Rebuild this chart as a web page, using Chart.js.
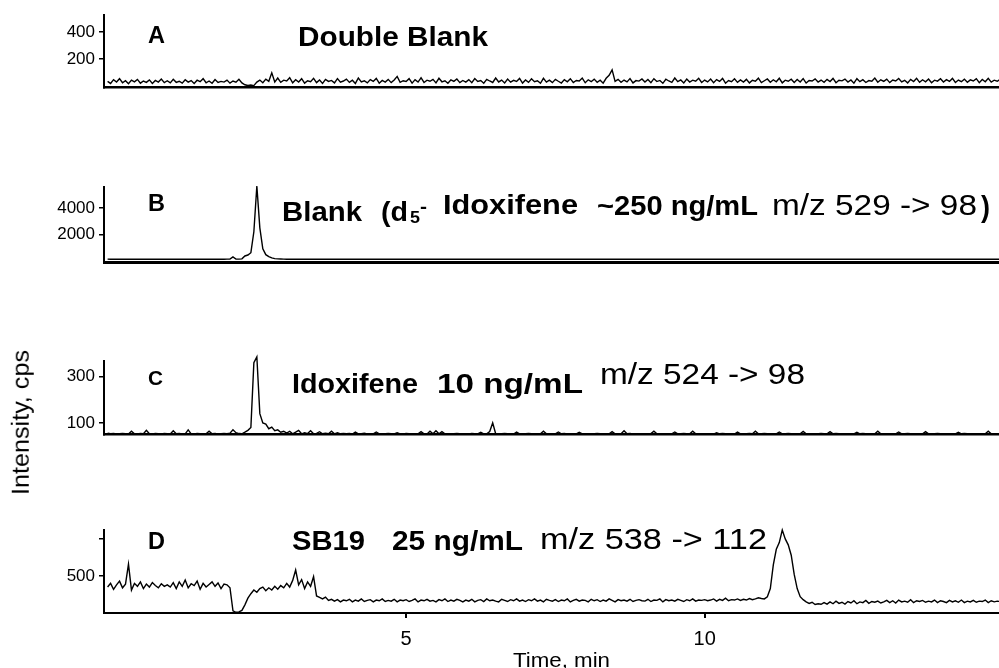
<!DOCTYPE html>
<html>
<head>
<meta charset="utf-8">
<title>Chromatograms A-D</title>
<script src="https://cdn.jsdelivr.net/npm/chart.js@4.4.1/dist/chart.umd.min.js"></script>
<style>
  html, body { margin: 0; padding: 0; background: #fff; }
  #stage { position: relative; width: 999px; height: 668px; overflow: hidden; background: #fff; }
  #stage canvas { position: absolute; left: 0; }
  .lbl { position: absolute; white-space: pre; line-height: 1; color: #000;
         font-family: "Liberation Sans", Arial, Helvetica, sans-serif; transform-origin: 0 50%; }
</style>
</head>
<body>
<div id="stage">
  <canvas id="panelA" width="999" height="100" style="top:0px"></canvas>
  <canvas id="panelB" width="999" height="105" style="top:170px"></canvas>
  <canvas id="panelC" width="999" height="107" style="top:340px"></canvas>
  <canvas id="panelD" width="999" height="158" style="top:510px"></canvas>
</div>
<script>
// ── Data ────────────────────────────────────────────────────────
// retention time grid, min (0.05 min steps)
const timeMin = [
  0,0.05,0.1,0.15,0.2,0.25,0.3,0.35,0.4,0.45,0.5,0.55,0.6,0.65,0.7,0.75,0.8,0.85,0.9,0.95,
  1,1.05,1.1,1.15,1.2,1.25,1.3,1.35,1.4,1.45,1.5,1.55,1.6,1.65,1.7,1.75,1.8,1.85,1.9,1.95,
  2,2.05,2.1,2.15,2.2,2.25,2.3,2.35,2.4,2.45,2.5,2.55,2.6,2.65,2.7,2.75,2.8,2.85,2.9,2.95,
  3,3.05,3.1,3.15,3.2,3.25,3.3,3.35,3.4,3.45,3.5,3.55,3.6,3.65,3.7,3.75,3.8,3.85,3.9,3.95,
  4,4.05,4.1,4.15,4.2,4.25,4.3,4.35,4.4,4.45,4.5,4.55,4.6,4.65,4.7,4.75,4.8,4.85,4.9,4.95,
  5,5.05,5.1,5.15,5.2,5.25,5.3,5.35,5.4,5.45,5.5,5.55,5.6,5.65,5.7,5.75,5.8,5.85,5.9,5.95,
  6,6.05,6.1,6.15,6.2,6.25,6.3,6.35,6.4,6.45,6.5,6.55,6.6,6.65,6.7,6.75,6.8,6.85,6.9,6.95,
  7,7.05,7.1,7.15,7.2,7.25,7.3,7.35,7.4,7.45,7.5,7.55,7.6,7.65,7.7,7.75,7.8,7.85,7.9,7.95,
  8,8.05,8.1,8.15,8.2,8.25,8.3,8.35,8.4,8.45,8.5,8.55,8.6,8.65,8.7,8.75,8.8,8.85,8.9,8.95,
  9,9.05,9.1,9.15,9.2,9.25,9.3,9.35,9.4,9.45,9.5,9.55,9.6,9.65,9.7,9.75,9.8,9.85,9.9,9.95,
  10,10.05,10.1,10.15,10.2,10.25,10.3,10.35,10.4,10.45,10.5,10.55,10.6,10.65,10.7,10.75,10.8,10.85,10.9,10.95,
  11,11.05,11.1,11.15,11.2,11.25,11.3,11.35,11.4,11.45,11.5,11.55,11.6,11.65,11.7,11.75,11.8,11.85,11.9,11.95,
  12,12.05,12.1,12.15,12.2,12.25,12.3,12.35,12.4,12.45,12.5,12.55,12.6,12.65,12.7,12.75,12.8,12.85,12.9,12.95,
  13,13.05,13.1,13.15,13.2,13.25,13.3,13.35,13.4,13.45,13.5,13.55,13.6,13.65,13.7,13.75,13.8,13.85,13.9,13.95,
  14,14.05,14.1,14.15,14.2,14.25,14.3,14.35,14.4,14.45,14.5,14.55,14.6,14.65,14.7,14.75,14.8,14.85,14.9,14.95
];

// A: double blank, cps
const doubleBlank = [
  35,20,48,30,55,25,40,18,45,32,50,22,38,28,46,20,42,30,52,26,
  40,24,50,28,36,22,47,30,41,19,44,33,55,25,38,21,49,27,35,30,
  45,22,38,29,51,24,10,5,8,4,30,45,25,52,36,98,30,60,28,44,
  38,62,25,47,30,55,22,40,33,58,26,45,20,50,35,42,24,56,30,38,
  52,28,44,20,60,32,40,24,48,35,57,22,42,30,50,26,46,72,28,40,
  34,55,22,48,30,62,27,44,36,50,24,58,32,40,21,47,35,53,26,42,
  30,48,25,56,34,41,22,50,38,27,60,31,45,24,52,29,43,35,57,23,
  46,28,54,33,40,21,58,30,44,26,50,36,23,48,32,55,27,42,38,60,
  25,47,33,52,29,44,22,58,80,120,35,50,28,45,31,56,24,41,37,53,
  30,49,26,55,34,42,21,51,38,28,60,33,46,24,53,30,44,36,58,27,
  45,31,52,25,48,35,57,22,41,33,55,28,46,30,50,24,43,37,59,26,
  40,53,29,47,32,58,24,44,36,51,27,49,31,56,23,42,38,54,30,45,
  28,50,34,57,25,43,39,52,30,46,22,55,33,48,27,41,36,60,29,47,
  35,52,26,45,38,56,31,43,24,50,34,58,28,47,32,53,25,44,37,55,
  30,48,35,57,27,45,33,52,29,46,38,55,26,49,32,58,30,44,36,51
];

// B: blank with d5-idoxifene internal standard, cps
const blankIS = [
  110,100,95,105,100,110,98,102,100,105,95,100,108,100,96,104,100,110,98,102,
  100,105,96,100,110,98,102,100,95,105,100,108,96,102,100,104,98,100,106,100,
  105,110,280,120,110,130,350,420,600,2200,5700,2500,900,450,300,200,150,130,120,110,
  104,98,100,106,100,95,102,100,108,97,100,104,99,102,96,100,105,100,98,103,
  100,96,104,100,107,98,101,100,95,104,100,102,97,105,100,99,103,100,96,102,
  101,104,98,100,106,97,100,103,99,100,105,96,102,100,98,104,100,101,97,103,
  100,97,103,100,99,105,98,101,100,104,96,100,103,98,101,100,106,99,100,102,
  98,102,100,105,97,100,103,99,101,100,96,104,100,98,105,100,102,97,100,104,
  103,100,97,101,104,99,100,106,98,100,102,97,105,100,99,103,100,96,102,100,
  100,104,98,102,100,97,105,100,101,99,103,100,96,104,100,98,102,100,105,99,
  97,101,100,104,98,102,100,99,105,100,97,103,100,101,98,104,100,99,102,100,
  102,99,104,100,97,101,100,105,98,100,103,99,101,100,96,104,100,102,98,100,
  100,103,98,100,105,99,102,100,97,104,100,101,98,103,100,99,105,100,97,102,
  99,100,104,97,101,100,103,98,100,105,99,101,100,97,104,100,102,98,100,103,
  101,98,100,104,99,102,100,97,103,100,105,98,101,100,99,104,100,97,102,100
];

// C: idoxifene 10 ng/mL, cps
const idoxifene10 = [
  56,53,54,52,53,55,53,52,64,53,52,54,53,68,53,52,54,53,52,55,
  53,52,66,53,54,52,53,70,53,52,54,53,52,53,64,53,55,52,53,54,
  53,56,70,58,54,53,60,68,80,360,385,140,100,95,75,82,66,70,60,64,
  56,64,53,60,68,53,58,54,66,53,55,62,53,56,53,64,53,58,53,55,
  53,54,52,60,53,53,56,52,53,53,61,53,52,53,54,53,53,58,53,52,
  54,53,52,53,53,62,53,52,64,53,66,53,62,53,53,52,53,54,53,53,
  53,52,54,53,53,60,53,53,63,100,53,52,53,54,53,53,52,60,53,53,
  53,54,53,52,53,53,64,53,53,52,53,61,53,54,52,53,53,53,60,53,
  53,52,53,53,54,53,53,52,53,62,53,53,53,66,53,54,52,53,53,53,
  52,53,54,64,53,53,53,53,52,53,61,53,53,54,53,53,64,53,52,53,
  53,53,53,52,58,53,54,53,53,53,52,60,53,53,53,54,53,64,53,53,
  54,53,52,53,53,61,53,53,54,53,52,53,53,63,53,53,53,52,53,54,
  53,53,62,53,54,53,52,53,53,53,53,60,53,54,53,53,52,53,64,53,
  53,53,53,52,53,61,53,53,54,53,53,53,52,53,62,53,53,53,54,53,
  53,52,53,53,53,60,53,54,53,53,52,53,53,53,53,64,53,53,52,53
];

// D: SB19 25 ng/mL, cps
const sb19 = [
  350,400,320,380,430,340,390,660,310,400,360,420,330,390,350,410,370,340,395,360,
  380,350,410,330,420,360,445,340,395,370,430,320,400,350,385,420,360,405,330,390,
  380,340,30,10,15,35,110,200,260,310,280,330,350,300,340,310,360,320,370,340,
  400,350,440,580,380,450,330,420,360,490,230,210,190,215,170,185,160,180,150,175,
  165,185,150,175,160,190,155,170,180,150,175,165,190,155,170,160,185,150,175,165,
  180,155,170,190,150,175,165,185,160,170,150,180,165,190,155,175,160,185,170,150,
  175,160,185,150,170,180,155,190,165,175,160,150,185,170,155,180,165,190,160,175,
  155,180,165,190,160,175,150,185,170,160,180,155,175,165,190,150,170,185,160,175,
  170,150,185,165,180,155,175,160,190,170,150,180,165,175,160,185,155,170,180,165,
  160,185,155,175,170,190,150,180,165,175,160,185,170,155,180,165,190,160,175,170,
  180,165,175,190,160,185,170,200,165,180,175,190,170,185,175,195,180,190,205,195,
  190,220,330,650,860,950,1120,1000,920,780,520,330,220,180,150,130,145,115,125,118,
  140,120,150,125,160,130,145,120,155,135,165,125,150,140,170,130,155,145,160,135,
  150,170,140,165,135,175,150,160,145,180,140,165,155,170,145,160,150,175,140,165,
  155,140,170,150,165,145,175,140,160,150,170,145,160,155,175,140,165,150,160,155
];

// tick values / labels
const timeTicks = [5, 10];
const tickValuesA = [200, 400];
const tickValuesB = [2000, 4000];
const tickValuesC = [100, 300];
const tickValuesD = [500, 1000];
const tickLabelsD = ["500", ""];

// ── Shared look ─────────────────────────────────────────────────
const FONT = '"Liberation Sans", Arial, Helvetica, sans-serif';
const X_MIN = -0.06, X_MAX = 14.93;
const AXIS_W = 104;

function makePanel(id, values, cfg) {
  const pts = timeMin.map((t, i) => ({ x: t, y: values[i] }));
  return new Chart(document.getElementById(id), {
    type: "line",
    data: {
      datasets: [{
        data: pts,
        borderColor: "#000",
        borderWidth: 1.4,
        pointRadius: 0,
        tension: 0,
        clip: false
      }]
    },
    options: {
      responsive: false,
      animation: false,
      events: [],
      layout: { padding: { top: cfg.padTop, bottom: cfg.padBottom, left: 0, right: 0 } },
      plugins: { legend: { display: false }, tooltip: { enabled: false } },
      scales: {
        x: {
          type: "linear",
          min: X_MIN,
          max: X_MAX,
          afterBuildTicks: s => { s.ticks = timeTicks.map(v => ({ value: v })); },
          afterFit: s => { s.height = cfg.xHeight; },
          ticks: {
            display: cfg.showTime,
            color: "#000",
            padding: 9,
            maxRotation: 0,
            font: { family: FONT, size: 20 }
          },
          grid: {
            display: true,
            drawOnChartArea: false,
            drawTicks: cfg.showTime,
            tickLength: 5,
            color: "#000",
            lineWidth: 2
          },
          border: { display: true, color: "#000", width: cfg.baseWidth }
        },
        y: {
          min: cfg.yMin,
          max: cfg.yMax,
          afterBuildTicks: s => { s.ticks = cfg.ticks.map(v => ({ value: v })); },
          afterFit: s => { s.width = AXIS_W; },
          ticks: {
            color: "#000",
            padding: 4,
            font: { family: FONT, size: 17, lineHeight: 1 },
            callback: (v, i) => cfg.labels ? cfg.labels[i] : String(v)
          },
          grid: {
            drawOnChartArea: false,
            tickLength: 5,
            color: "#000",
            lineWidth: 1.5
          },
          border: { color: "#000", width: 2 }
        }
      }
    }
  });
}

makePanel("panelA", doubleBlank, { padTop: 15, padBottom: 10, xHeight: 0, showTime: false, baseWidth: 2.5, yMin: -10, yMax: 525, ticks: tickValuesA });
makePanel("panelB", blankIS, { padTop: 17, padBottom: 10, xHeight: 0, showTime: false, baseWidth: 3, yMin: -150, yMax: 5620, ticks: tickValuesB });
makePanel("panelC", idoxifene10, { padTop: 21, padBottom: 10, xHeight: 0, showTime: false, baseWidth: 2.5, yMin: 50, yMax: 367, ticks: tickValuesC });
makePanel("panelD", sb19, { padTop: 20, padBottom: 0, xHeight: 55, showTime: true, baseWidth: 2, yMin: 0, yMax: 1120, ticks: tickValuesD, labels: tickLabelsD });

// ── Text overlays (position, target width, centre line) ─────────
const labels = [
  { t: "A", x: 148, w: 17, cy: 35, size: 23, bold: true },
  { t: "Double Blank", x: 298, w: 190, cy: 37, size: 28, bold: true },
  { t: "B", x: 148, w: 17, cy: 203, size: 23, bold: true },
  { t: "Blank", x: 282, w: 80, cy: 212, size: 28, bold: true },
  { t: "(d", x: 381, w: 27, cy: 212, size: 28, bold: true },
  { t: "5", x: 410, w: 10, cy: 217, size: 17, bold: true },
  { t: "-", x: 420, w: 7, cy: 207, size: 18, bold: true },
  { t: "Idoxifene", x: 443, w: 135, cy: 205, size: 27, bold: true },
  { t: "~250 ng/mL", x: 597, w: 161, cy: 206, size: 27, bold: true },
  { t: "m/z 529 -> 98", x: 772, w: 205, cy: 205, size: 29, bold: false },
  { t: ")", x: 981, w: 9, cy: 207, size: 30, bold: true },
  { t: "C", x: 148, w: 15, cy: 377, size: 21, bold: true },
  { t: "Idoxifene", x: 292, w: 126, cy: 384, size: 27, bold: true },
  { t: "10 ng/mL", x: 437, w: 146, cy: 384, size: 27, bold: true },
  { t: "m/z 524 -> 98", x: 600, w: 205, cy: 374, size: 29, bold: false },
  { t: "D", x: 148, w: 17, cy: 541, size: 23, bold: true },
  { t: "SB19", x: 292, w: 73, cy: 541, size: 27, bold: true },
  { t: "25 ng/mL", x: 392, w: 131, cy: 541, size: 27, bold: true },
  { t: "m/z 538 -> 112", x: 540, w: 227, cy: 539, size: 29, bold: false },
  { t: "Time, min", x: 513, w: 97, cy: 659, size: 21, bold: false }
];

const stage = document.getElementById("stage");
labels.forEach(l => {
  const el = document.createElement("span");
  el.className = "lbl";
  el.textContent = l.t;
  el.style.fontSize = l.size + "px";
  el.style.fontWeight = l.bold ? "bold" : "normal";
  el.style.left = l.x + "px";
  el.style.top = (l.cy - l.size / 2) + "px";
  stage.appendChild(el);
  const k = l.w / el.getBoundingClientRect().width;
  el.style.transform = `scaleX(${k})`;
});

// rotated y title
(function yTitle() {
  const el = document.createElement("span");
  el.className = "lbl";
  el.textContent = "Intensity, cps";
  el.style.fontSize = "23px";
  stage.appendChild(el);
  const r = el.getBoundingClientRect();
  const k = 145 / r.width;
  el.style.transformOrigin = "50% 50%";
  el.style.left = (21 - r.width / 2) + "px";
  el.style.top = (422 - r.height / 2) + "px";
  el.style.transform = `rotate(-90deg) scaleX(${k})`;
})();
</script>
</body>
</html>
